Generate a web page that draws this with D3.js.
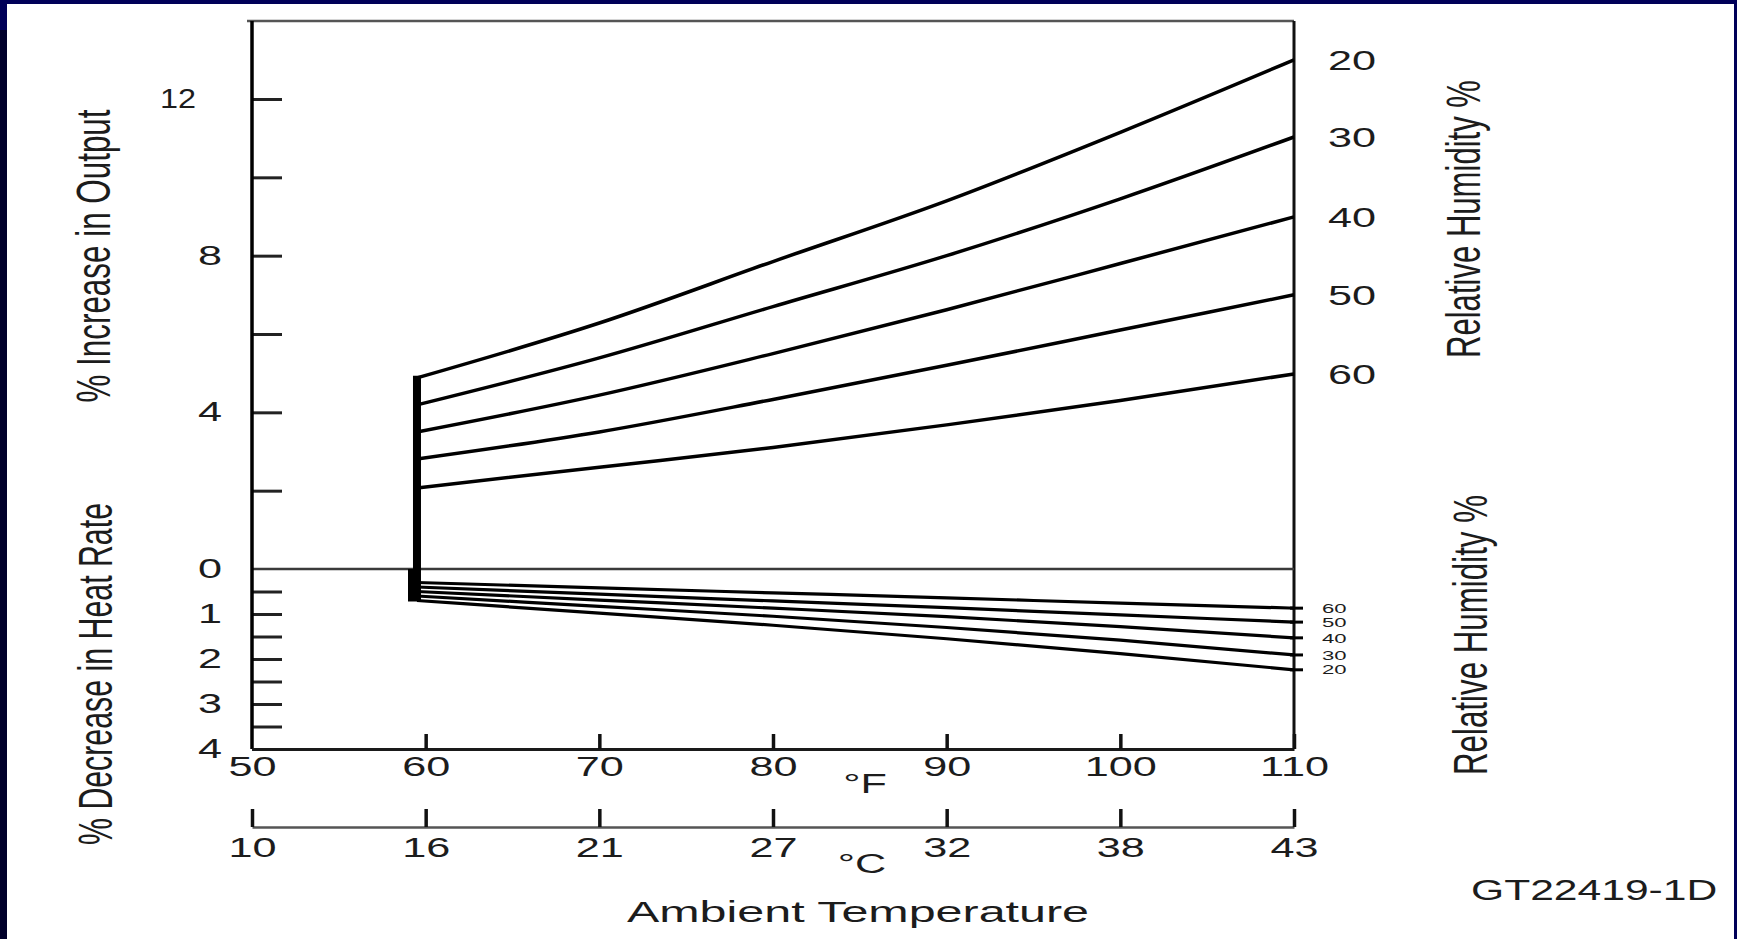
<!DOCTYPE html>
<html>
<head>
<meta charset="utf-8">
<script src="https://cdn.jsdelivr.net/npm/d3@7"></script>
<style>
  html, body { margin: 0; padding: 0; background: #ffffff; }
  svg { display: block; }
  text { font-family: "Liberation Sans", Arial, Helvetica, sans-serif; fill: #1c1c1c; }
</style>
</head>
<body>
<svg id="chart" width="1737" height="939"></svg>
<script>
// ---------------- data ----------------
const fahrenheitTicks = [50, 60, 70, 80, 90, 100, 110];
const celsiusLabels = [10, 16, 21, 27, 32, 38, 43];
const outputTicks = [2, 4, 6, 8, 10, 12];
const heatRateTicks = [0.5, 1, 1.5, 2, 2.5, 3, 3.5, 4];
const humidityLevels = [20, 30, 40, 50, 60];
const ambientTemps = [59.5, 70, 80, 90, 100, 110];

// % increase in output, by relative humidity
const outputRH20 = [4.88, 6.28, 7.85, 9.4, 11.15, 13.0];
const outputRH30 = [4.19, 5.39, 6.7, 8.0, 9.45, 11.03];
const outputRH40 = [3.5, 4.44, 5.5, 6.62, 7.8, 8.99];
const outputRH50 = [2.81, 3.5, 4.33, 5.2, 6.1, 7.0];
const outputRH60 = [2.07, 2.6, 3.1, 3.68, 4.3, 4.98];

// % decrease in heat rate, by relative humidity
const heatRateRH20 = [0.70, 0.98, 1.25, 1.55, 1.88, 2.24];
const heatRateRH30 = [0.60, 0.83, 1.05, 1.30, 1.58, 1.91];
const heatRateRH40 = [0.50, 0.69, 0.87, 1.06, 1.28, 1.53];
const heatRateRH50 = [0.40, 0.56, 0.71, 0.86, 1.02, 1.18];
const heatRateRH60 = [0.30, 0.42, 0.53, 0.64, 0.76, 0.87];

const outputSeries = [outputRH20, outputRH30, outputRH40, outputRH50, outputRH60];
const heatRateSeries = [heatRateRH20, heatRateRH30, heatRateRH40, heatRateRH50, heatRateRH60];

// ---------------- drawing ----------------
const W = 1737, H = 939;
const svg = d3.select("#chart");
const STRETCH = 1.6;

function stretch(sel, k) {
  sel.each(function () {
    const L = this.getComputedTextLength();
    if (L > 0) {
      this.setAttribute("textLength", L * k);
      this.setAttribute("lengthAdjust", "spacingAndGlyphs");
    }
  });
}

// frame
svg.append("rect").attr("x", 0).attr("y", 0).attr("width", W).attr("height", H).attr("fill", "#000058");
svg.append("rect").attr("x", 0).attr("y", 30).attr("width", 7).attr("height", H - 30).attr("fill", "#00002a");
svg.append("rect").attr("x", 7).attr("y", 4).attr("width", W - 10).attr("height", H - 4).attr("fill", "#ffffff");

const x = d3.scaleLinear().domain([50, 110]).range([252, 1294]);
const yUp = d3.scaleLinear().domain([0, 12]).range([569, 99]);
const yDn = d3.scaleLinear().domain([0, 4]).range([569, 749]);

const plotTop = 21;
const left = x(50), right = x(110), bottom = yDn(4);

// top border
svg.append("line").attr("x1", left - 5).attr("x2", right).attr("y1", plotTop).attr("y2", plotTop)
  .attr("stroke", "#555").attr("stroke-width", 2.5);
// right axis
svg.append("line").attr("x1", right).attr("x2", right).attr("y1", plotTop).attr("y2", bottom)
  .attr("stroke", "#111").attr("stroke-width", 3);
// zero line
svg.append("line").attr("x1", left).attr("x2", right).attr("y1", yUp(0)).attr("y2", yUp(0))
  .attr("stroke", "#3a3a3a").attr("stroke-width", 2.5);

// left axes (upper: output, lower: heat rate)
const axUp = d3.axisLeft(yUp).tickValues(outputTicks).tickSize(-30).tickPadding(30)
  .tickFormat(d => d % 4 === 0 ? d : "");
const gUp = svg.append("g").attr("transform", `translate(${left},0)`).call(axUp);
gUp.select(".domain").remove();

const axDn = d3.axisLeft(yDn).tickValues([0].concat(heatRateTicks)).tickSize(-30).tickPadding(30)
  .tickFormat(d => Number.isInteger(d) ? d : "");
const gDn = svg.append("g").attr("transform", `translate(${left},0)`).call(axDn);
gDn.select(".domain").remove();

[gUp, gDn].forEach(g => {
  g.selectAll(".tick line").attr("stroke", "#222").attr("stroke-width", 3);
  g.selectAll(".tick text").attr("font-size", 27).attr("fill", "#1c1c1c")
    .attr("font-family", "Liberation Sans, Arial, sans-serif");
});
stretch(gUp.selectAll(".tick").filter(d => d !== 12).select("text"), STRETCH);
stretch(gDn.selectAll(".tick text"), STRETCH);
gDn.selectAll(".tick").filter(d => d === 0).select("line").remove();
// the "12" label sits a little further out in the source, and is narrower
const label12 = gUp.selectAll(".tick").filter(d => d === 12).select("text").attr("x", -56);
stretch(label12, 1.2);

// left axis line
svg.append("line").attr("x1", left).attr("x2", left).attr("y1", plotTop).attr("y2", bottom)
  .attr("stroke", "#000").attr("stroke-width", 3.5);

// bottom °F axis
const axF = d3.axisBottom(x).tickValues(fahrenheitTicks).tickSize(-15).tickSizeOuter(0).tickPadding(8);
const gF = svg.append("g").attr("transform", `translate(0,${bottom})`).call(axF);
gF.select(".domain").attr("stroke", "#1a1a1a").attr("stroke-width", 3);
gF.selectAll(".tick line").attr("stroke", "#111").attr("stroke-width", 3.5);
gF.selectAll(".tick").filter(d => d === 50).select("line").remove();
gF.selectAll(".tick text").attr("font-size", 27).attr("fill", "#1c1c1c")
  .attr("font-family", "Liberation Sans, Arial, sans-serif");
stretch(gF.selectAll(".tick text"), STRETCH);

// °C axis
const cY = 827;
const axC = d3.axisBottom(x).tickValues(fahrenheitTicks).tickFormat((d, i) => celsiusLabels[i])
  .tickSize(-18).tickSizeOuter(0).tickPadding(11);
const gC = svg.append("g").attr("transform", `translate(0,${cY})`).call(axC);
gC.select(".domain").attr("stroke", "#555").attr("stroke-width", 2.5);
gC.selectAll(".tick line").attr("stroke", "#111").attr("stroke-width", 3.5);
gC.selectAll(".tick text").attr("font-size", 27).attr("fill", "#1c1c1c")
  .attr("font-family", "Liberation Sans, Arial, sans-serif");
stretch(gC.selectAll(".tick text"), STRETCH);

// unit labels
const unitF = svg.append("text").attr("x", 865).attr("y", 793).attr("text-anchor", "middle")
  .attr("font-size", 27).text("°F");
const unitC = svg.append("text").attr("x", 862).attr("y", 873).attr("text-anchor", "middle")
  .attr("font-size", 27).text("°C");
stretch(unitF, STRETCH); stretch(unitC, STRETCH);

const ambient = svg.append("text").attr("x", 858).attr("y", 922).attr("text-anchor", "middle")
  .attr("font-size", 29).text("Ambient Temperature");
stretch(ambient, 1.67);

const code = svg.append("text").attr("x", 1471).attr("y", 900).attr("text-anchor", "start")
  .attr("font-size", 30).text("GT22419-1D");
stretch(code, 1.42);

// rotated titles
function vTitle(txt, cx, cy, len) {
  const g = svg.append("g").attr("transform", `translate(${cx},${cy}) scale(1.55,1) rotate(-90)`);
  const t = g.append("text").attr("text-anchor", "middle").attr("dy", "0.35em")
    .attr("font-size", 31).text(txt);
  t.attr("textLength", len).attr("lengthAdjust", "spacingAndGlyphs");
}
vTitle("% Increase in Output", 93, 256, 293);
vTitle("% Decrease in Heat Rate", 95, 674, 342);
vTitle("Relative Humidity %", 1463, 219, 278);
vTitle("Relative Humidity %", 1470, 635, 280);

// curves
const lineUp = d3.line().x((d, i) => x(ambientTemps[i])).y(d => yUp(d)).curve(d3.curveMonotoneX);
const lineDn = d3.line().x((d, i) => x(ambientTemps[i])).y(d => yDn(d)).curve(d3.curveMonotoneX);

svg.append("g").selectAll("path").data(outputSeries).join("path")
  .attr("d", lineUp).attr("fill", "none").attr("stroke", "#000").attr("stroke-width", 3.5);

svg.append("g").selectAll("path").data(heatRateSeries).join("path")
  .attr("d", lineDn).attr("fill", "none").attr("stroke", "#000").attr("stroke-width", 3.2);

// vertical bar at the start temperature
const startX = x(ambientTemps[0]);
const maxUp = d3.max(outputSeries, s => s[0]);
const maxDn = d3.max(heatRateSeries, s => s[0]);
svg.append("line").attr("x1", startX).attr("x2", startX)
  .attr("y1", yUp(maxUp) - 2).attr("y2", yDn(maxDn))
  .attr("stroke", "#000").attr("stroke-width", 8);
svg.append("line").attr("x1", startX - 3).attr("x2", startX - 3)
  .attr("y1", yDn(0)).attr("y2", yDn(maxDn) + 1)
  .attr("stroke", "#000").attr("stroke-width", 12);

// right end ticks for heat-rate lines
svg.append("g").selectAll("line").data(heatRateSeries).join("line")
  .attr("x1", right - 4).attr("x2", right + 9)
  .attr("y1", s => yDn(s[s.length - 1])).attr("y2", s => yDn(s[s.length - 1]))
  .attr("stroke", "#000").attr("stroke-width", 3);

// humidity labels
const upLabels = svg.append("g").selectAll("text").data(outputSeries).join("text")
  .attr("x", 1352).attr("y", s => yUp(s[s.length - 1])).attr("dy", "0.36em")
  .attr("text-anchor", "middle").attr("font-size", 27)
  .text((s, i) => humidityLevels[i]);
stretch(upLabels, STRETCH);

const dnLabels = svg.append("g").selectAll("text").data(heatRateSeries).join("text")
  .attr("x", 1322).attr("y", s => yDn(s[s.length - 1])).attr("dy", "0.36em")
  .attr("text-anchor", "start").attr("font-size", 13).attr("fill", "#555")
  .text((s, i) => humidityLevels[i]);
stretch(dnLabels, 1.7);
</script>
</body>
</html>
